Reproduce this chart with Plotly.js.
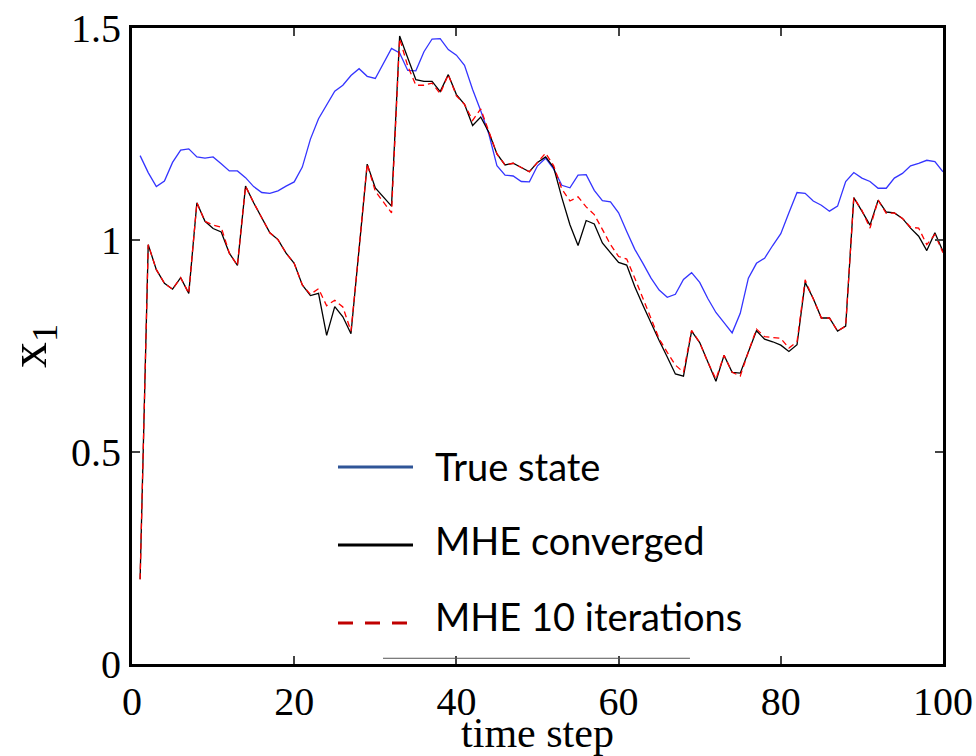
<!DOCTYPE html>
<html>
<head>
<meta charset="utf-8">
<script src="https://cdn.plot.ly/plotly-3.0.1.min.js"></script>
<style>html,body{margin:0;padding:0;background:#fff;}#chart{width:976px;height:756px;}</style>
</head>
<body>
<div id="chart"></div>
<script>
// time steps 1..100
const timeSteps = Array.from({length: 100}, (_, i) => i + 1);

const trueState = [
1.199,1.159,1.126,1.139,1.183,1.212,1.215,1.196,1.193,1.196,
1.180,1.163,1.163,1.147,1.126,1.112,1.110,1.116,1.127,1.137,
1.172,1.238,1.286,1.317,1.351,1.365,1.388,1.404,1.386,1.381,
1.416,1.452,1.441,1.400,1.399,1.444,1.474,1.475,1.449,1.436,
1.412,1.355,1.305,1.250,1.175,1.153,1.151,1.138,1.137,1.175,
1.193,1.167,1.129,1.123,1.153,1.154,1.117,1.093,1.090,1.064,
1.020,0.978,0.945,0.910,0.882,0.865,0.872,0.907,0.923,0.900,
0.862,0.829,0.805,0.781,0.827,0.910,0.945,0.957,0.987,1.015,
1.064,1.112,1.110,1.092,1.082,1.068,1.080,1.138,1.159,1.146,
1.138,1.122,1.122,1.146,1.157,1.175,1.181,1.188,1.185,1.161];

const mheConverged = [
0.200,0.989,0.930,0.898,0.884,0.911,0.874,1.088,1.044,1.027,
1.019,0.969,0.940,1.127,1.088,1.052,1.017,1.001,0.969,0.945,
0.894,0.869,0.874,0.775,0.843,0.819,0.779,0.979,1.179,1.123,
1.101,1.080,1.481,1.428,1.378,1.374,1.374,1.350,1.390,1.343,
1.320,1.270,1.290,1.254,1.203,1.177,1.181,1.171,1.161,1.183,
1.196,1.171,1.100,1.036,0.987,1.046,1.038,0.993,0.969,0.947,
0.941,0.890,0.846,0.803,0.763,0.724,0.684,0.679,0.785,0.758,
0.712,0.667,0.728,0.688,0.686,0.736,0.786,0.766,0.760,0.752,
0.737,0.753,0.900,0.862,0.816,0.816,0.785,0.797,1.100,1.068,
1.035,1.094,1.066,1.064,1.051,1.028,1.009,0.975,1.017,0.973];

const mhe10Iter = [
0.200,0.989,0.930,0.898,0.884,0.911,0.874,1.088,1.044,1.035,
1.030,0.969,0.940,1.127,1.088,1.052,1.017,1.001,0.969,0.945,
0.894,0.872,0.885,0.845,0.858,0.842,0.785,0.979,1.179,1.115,
1.090,1.064,1.475,1.410,1.365,1.365,1.370,1.345,1.390,1.340,
1.320,1.282,1.309,1.254,1.203,1.177,1.181,1.171,1.161,1.183,
1.205,1.175,1.120,1.092,1.102,1.078,1.060,1.025,0.989,0.961,
0.955,0.910,0.862,0.815,0.767,0.735,0.705,0.688,0.787,0.758,
0.712,0.672,0.728,0.688,0.679,0.736,0.790,0.772,0.770,0.768,
0.745,0.760,0.906,0.862,0.816,0.816,0.785,0.797,1.100,1.070,
1.028,1.094,1.063,1.064,1.051,1.030,1.028,0.989,1.013,0.970];

const legendLabels = ['True state', 'MHE converged', 'MHE 10 iterations'];
const xTickVals = [0, 20, 40, 60, 80, 100];
const yTickVals = [0, 0.5, 1, 1.5];
const yTickText = ['0', '0.5', '1', '1.5'];

const traces = [
  {x: timeSteps, y: trueState, mode: 'lines', name: legendLabels[0],
   line: {color: '#3434ff', width: 1.3}},
  {x: timeSteps, y: mheConverged, mode: 'lines', name: legendLabels[1],
   line: {color: '#000000', width: 1.3}},
  {x: timeSteps, y: mhe10Iter, mode: 'lines', name: legendLabels[2],
   line: {color: '#ff0000', width: 1.3, dash: '6px,4px'}}
];

const serif = 'Liberation Serif, Times New Roman, serif';
const sans = 'Lato, Open Sans, sans-serif';

const legY = [0.3097, 0.187, 0.0645];
const legTextY = [0.311, 0.195, 0.076];
const legColors = ['#2f5597', '#000000', '#c00000'];
const legDash = ['solid', 'solid', '15px,12px'];

const shapes = legendLabels.map((_, i) => ({
  type: 'line', xref: 'paper', yref: 'paper',
  x0: 0.254, x1: 0.3465, y0: legY[i], y1: legY[i],
  line: {color: legColors[i], width: 3, dash: legDash[i]}
}));
shapes.push({type: 'line', xref: 'paper', yref: 'paper',
  x0: 0.3095, x1: 0.688, y0: 0.009, y1: 0.009,
  line: {color: '#555555', width: 1}});

const annotations = legendLabels.map((t, i) => ({
  text: t, xref: 'paper', yref: 'paper', x: 0.371, y: legTextY[i],
  xanchor: 'left', yanchor: 'middle', showarrow: false,
  font: {family: sans, size: 38, color: '#000'}
}));

const layout = {
  width: 976, height: 756,
  margin: {l: 132, r: 33, t: 28, b: 92, pad: 0},
  paper_bgcolor: '#fff', plot_bgcolor: '#fff',
  showlegend: false,
  xaxis: {
    range: [0, 100], tickvals: xTickVals, ticks: 'inside', ticklen: 8, tickwidth: 2,
    showline: true, linewidth: 3, linecolor: '#000', mirror: 'ticks',
    showgrid: false, zeroline: false,
    tickfont: {family: serif, size: 40, color: '#000'},
    title: {text: 'time step', font: {family: serif, size: 42, color: '#000'}, standoff: 0}
  },
  yaxis: {
    range: [0, 1.5], tickvals: yTickVals, ticktext: yTickText, ticks: 'inside', ticklen: 8, tickwidth: 2,
    showline: true, linewidth: 3, linecolor: '#000', mirror: 'ticks',
    showgrid: false, zeroline: false,
    tickfont: {family: serif, size: 40, color: '#000'},
    title: {text: 'x<sub>1</sub>', font: {family: serif, size: 52, color: '#000'}, standoff: 22}
  },
  shapes: shapes,
  annotations: annotations
};

Plotly.newPlot('chart', traces, layout, {displayModeBar: false, staticPlot: true});
</script>
</body>
</html>
